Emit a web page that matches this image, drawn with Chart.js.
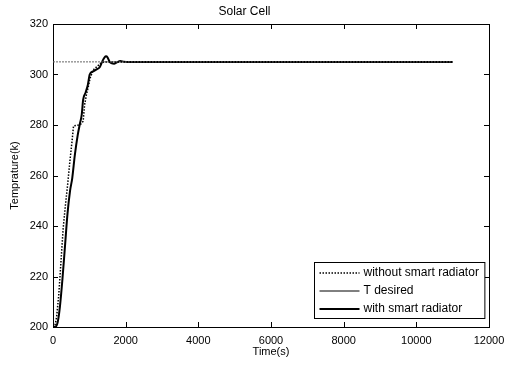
<!DOCTYPE html>
<html>
<head>
<meta charset="utf-8">
<script src="https://cdn.jsdelivr.net/npm/chart.js@4"></script>
<style>
  html, body { margin: 0; padding: 0; background: #fff; }
  #wrap { width: 507px; height: 366px; }
</style>
</head>
<body>
<div id="wrap"><canvas id="solarChart"></canvas></div>
<script>
// values
var withoutX = [0, 50, 100, 160, 220, 280, 340, 400, 460, 520, 565, 640, 700, 780, 830, 870, 920, 970, 1020, 1110, 1200, 1300, 1400, 1500, 11000];
var withoutY = [200, 200.3, 204, 213, 226, 239, 248, 256, 265, 273, 279.6, 279.8, 280, 280.5, 281.5, 288, 292, 295, 298.5, 301.8, 303, 304.3, 305, 305, 305];

var desiredX = [0, 11000];
var desiredY = [305, 305];

var withX = [0, 80, 130, 190, 260, 330, 400, 470, 530, 600, 680, 740, 790, 830, 900, 960, 1010, 1100, 1200, 1290, 1360, 1420, 1460, 1500, 1560, 1620, 1680, 1760, 1850, 1950, 2050, 11000];
var withY = [200, 200.2, 202, 208, 219, 232, 245, 254, 259, 268, 276, 280.5, 284, 290, 293, 296, 300, 301.2, 302, 303, 305.3, 306.8, 307.2, 306.8, 305, 304.4, 304.3, 304.8, 305.3, 305.1, 305, 305];

var xTicks = [0, 2000, 4000, 6000, 8000, 10000, 12000];
var yTicks = [200, 220, 240, 260, 280, 300, 320];

var seriesNames = ['without smart radiator', 'T desired', 'with smart radiator'];

function toPoints(xs, ys) {
    var pts = [];
    for (var i = 0; i < xs.length; i++) {
        pts.push({ x: xs[i], y: ys[i] });
    }
    return pts;
}

var FONT = '"Liberation Sans", Arial, sans-serif';

// matlab-like frame: top/right border, inward ticks, boxed legend
var matlabFrame = {
    id: 'matlabFrame',
    afterDraw: function (chart) {
        var ctx = chart.ctx;
        var a = chart.chartArea;
        var xs = chart.scales.x, ys = chart.scales.y;
        var len = 5;
        ctx.save();
        ctx.strokeStyle = '#000';
        ctx.lineWidth = 1;
        ctx.beginPath();
        ctx.moveTo(a.left, a.top + 0.5);
        ctx.lineTo(a.right + 0.5, a.top + 0.5);
        ctx.lineTo(a.right + 0.5, a.bottom);
        ctx.stroke();

        ctx.beginPath();
        xTicks.forEach(function (v) {
            var px = Math.round(xs.getPixelForValue(v)) + 0.5;
            ctx.moveTo(px, a.bottom);
            ctx.lineTo(px, a.bottom - len);
            ctx.moveTo(px, a.top);
            ctx.lineTo(px, a.top + len);
        });
        yTicks.forEach(function (v) {
            var py = Math.round(ys.getPixelForValue(v)) + 0.5;
            ctx.moveTo(a.left, py);
            ctx.lineTo(a.left + len, py);
            ctx.moveTo(a.right, py);
            ctx.lineTo(a.right - len, py);
        });
        ctx.stroke();

        // legend
        ctx.font = '12px ' + FONT;
        var ds = chart.data.datasets;
        var textW = 0;
        ds.forEach(function (d) { textW = Math.max(textW, ctx.measureText(d.label).width); });
        var lineLen = 40, rowH = 18;
        var boxW = 5 + lineLen + 4 + textW + 6;
        var boxH = rowH * ds.length + 2;
        var bx = Math.round(a.right - 5 - boxW) + 0.5;
        var by = Math.round(a.bottom - 9 - boxH) + 0.5;
        ctx.fillStyle = '#fff';
        ctx.fillRect(bx, by, boxW, boxH);
        ctx.lineWidth = 1;
        ctx.setLineDash([]);
        ctx.strokeRect(bx, by, boxW, boxH);
        ctx.textBaseline = 'middle';
        ctx.textAlign = 'left';
        ctx.fillStyle = '#000';
        ds.forEach(function (d, i) {
            var cy = Math.round(by + 1 + rowH * i + rowH / 2);
            ctx.strokeStyle = '#000';
            ctx.lineWidth = i === 1 ? 1 : d.borderWidth;
            ctx.setLineDash(i === 1 ? [] : (d.borderDash || []));
            ctx.beginPath();
            ctx.moveTo(bx + 5, cy);
            ctx.lineTo(bx + 5 + lineLen, cy);
            ctx.stroke();
            ctx.fillText(d.label, bx + 5 + lineLen + 4, cy);
        });
        ctx.restore();
    }
};

var ctx = document.getElementById('solarChart').getContext('2d');

var solarChart = new Chart(ctx, {
    type: 'scatter',
    data: {
        datasets: [{
            label: seriesNames[0],
            data: toPoints(withoutX, withoutY),
            showLine: true,
            borderColor: '#000',
            borderWidth: 1.5,
            borderDash: [1.5, 1.5],
            pointRadius: 0,
            tension: 0
        }, {
            label: seriesNames[1],
            data: toPoints(desiredX, desiredY),
            showLine: true,
            borderColor: '#666',
            borderWidth: 1,
            borderDash: [2, 1],
            pointRadius: 0
        }, {
            label: seriesNames[2],
            data: toPoints(withX, withY),
            showLine: true,
            borderColor: '#000',
            borderWidth: 2,
            pointRadius: 0,
            cubicInterpolationMode: 'monotone'
        }]
    },
    options: {
        responsive: true,
        maintainAspectRatio: false,
        animation: false,
        layout: { padding: { top: 0, right: 18, left: 0, bottom: 0 } },
        plugins: {
            legend: { display: false },
            tooltip: { enabled: false },
            title: {
                display: true,
                text: 'Solar Cell',
                color: '#000',
                font: { family: FONT, size: 12, weight: 'normal' },
                padding: { top: 4, bottom: 5.6 }
            }
        },
        scales: {
            x: {
                type: 'linear',
                min: 0,
                max: 12000,
                afterFit: function (s) { s.height = 39; s.paddingRight = 18; s.paddingLeft = 0; },
                afterBuildTicks: function (s) { s.ticks = xTicks.map(function (v) { return { value: v }; }); },
                grid: { display: false, drawTicks: false },
                border: { display: true, color: '#000', width: 1 },
                ticks: {
                    color: '#000',
                    padding: 7,
                    maxRotation: 0,
                    font: { family: FONT, size: 11 },
                    callback: function (v) { return String(v); }
                },
                title: {
                    display: true,
                    text: 'Time(s)',
                    color: '#000',
                    font: { family: FONT, size: 11 },
                    padding: { top: 0, bottom: 7 }
                }
            },
            y: {
                type: 'linear',
                min: 200,
                max: 320,
                afterFit: function (s) { s.width = 53; s.paddingTop = 0; s.paddingBottom = 0; },
                afterBuildTicks: function (s) { s.ticks = yTicks.map(function (v) { return { value: v }; }); },
                grid: { display: false, drawTicks: false },
                border: { display: true, color: '#000', width: 1 },
                ticks: {
                    color: '#000',
                    padding: 5,
                    font: { family: FONT, size: 11 },
                    callback: function (v) { return String(v); }
                },
                title: {
                    display: true,
                    text: 'Temprature(k)',
                    color: '#000',
                    font: { family: FONT, size: 11 },
                    padding: { top: 8, bottom: 0 }
                }
            }
        }
    },
    plugins: [matlabFrame]
});
</script>
</body>
</html>
